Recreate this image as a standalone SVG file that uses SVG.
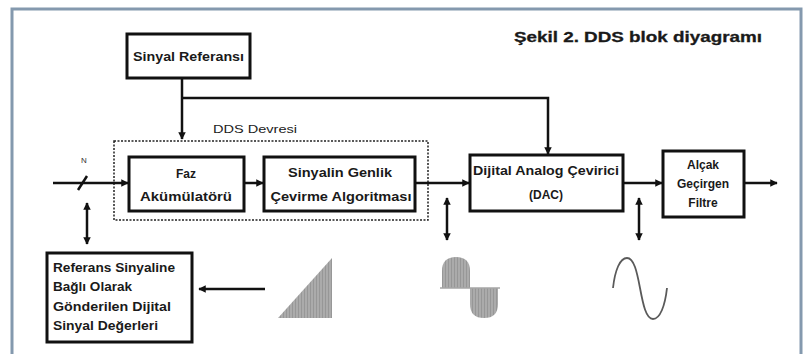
<svg xmlns="http://www.w3.org/2000/svg" width="803" height="354" viewBox="0 0 803 354">
  <defs>
    <style>
      .box { fill: #ffffff; stroke: #111111; stroke-width: 3; }
      .wire { fill: none; stroke: #111111; stroke-width: 2.5; }
      .lbl { font-family: "Liberation Sans", Arial, sans-serif; font-weight: bold; font-size: 12px; fill: #1a1a1a; }
      .mid { text-anchor: middle; }
      .wave { fill: url(#stripes); stroke: none; }
    </style>
    <marker id="arrow" viewBox="0 0 10 10" refX="9" refY="5" markerWidth="3" markerHeight="3" orient="auto-start-reverse" markerUnits="strokeWidth">
      <path d="M0,0 L10,5 L0,10 Z" fill="#111111"/>
    </marker>
    <pattern id="stripes" width="3" height="6" patternUnits="userSpaceOnUse">
      <rect width="3" height="6" fill="#ababab"/>
      <line x1="1.5" y1="0" x2="1.5" y2="6" stroke="#979797" stroke-width="1"/>
    </pattern>
  </defs>

  <rect width="803" height="354" fill="#ffffff"/>
  <!-- frame -->
  <rect x="12" y="9" width="789" height="350" fill="none" stroke="#8499ae" stroke-width="3"/>

  <text x="762" y="42" class="lbl" style="font-size:14.5px;text-anchor:end;stroke:#1a1a1a;stroke-width:0.3" textLength="248" lengthAdjust="spacingAndGlyphs">Şekil 2. DDS blok diyagramı</text>

  <!-- DDS block boundary -->
  <rect x="114" y="141" width="314" height="79" fill="none" stroke="#222222" stroke-width="1.5" stroke-dasharray="2 1.5"/>
  <text x="255" y="133" style="font-family:'Liberation Sans',Arial,sans-serif;font-size:11px;fill:#222" class="mid" textLength="84" lengthAdjust="spacingAndGlyphs">DDS Devresi</text>

  <g id="connectors">
    <!-- reference feeds -->
    <path class="wire" d="M182,78 V139" marker-end="url(#arrow)"/>
    <path class="wire" d="M182,98 H548 V154" marker-end="url(#arrow)"/>
    <!-- main signal chain -->
    <path class="wire" d="M53,183 H128" marker-end="url(#arrow)"/>
    <path class="wire" d="M244,183 H263" marker-end="url(#arrow)"/>
    <path class="wire" d="M415,183 H469" marker-end="url(#arrow)"/>
    <path class="wire" d="M623,183 H662" marker-end="url(#arrow)"/>
    <path class="wire" d="M744,183 H777" marker-end="url(#arrow)"/>
    <!-- bus width slash -->
    <path class="wire" d="M78,190 L87,176" stroke-width="2"/>
    <!-- probes -->
    <path class="wire" d="M87,203 V244" marker-start="url(#arrow)" marker-end="url(#arrow)"/>
    <path class="wire" d="M447,198 V240" marker-start="url(#arrow)" marker-end="url(#arrow)"/>
    <path class="wire" d="M639,198 V240" marker-start="url(#arrow)" marker-end="url(#arrow)"/>
    <path class="wire" d="M265,289 H199" marker-end="url(#arrow)"/>
  </g>
  <text x="84" y="163" style="font-family:'Liberation Sans',Arial,sans-serif;font-size:8px;fill:#333" class="mid">N</text>

  <g id="sinyal-referansi">
    <rect class="box" x="127" y="34" width="123" height="44"/>
    <text x="188.5" y="61" class="lbl mid" textLength="111" lengthAdjust="spacingAndGlyphs">Sinyal Referansı</text>
  </g>

  <g id="faz-akumulatoru">
    <rect class="box" x="129" y="157" width="115" height="54"/>
    <text x="186" y="178" class="lbl mid">Faz</text>
    <text x="186" y="201" class="lbl mid" textLength="92" lengthAdjust="spacingAndGlyphs">Akümülatörü</text>
  </g>

  <g id="genlik-cevirme">
    <rect class="box" x="264" y="157" width="151" height="54"/>
    <text x="340" y="177" class="lbl mid" textLength="104" lengthAdjust="spacingAndGlyphs">Sinyalin Genlik</text>
    <text x="341" y="201" class="lbl mid" textLength="141" lengthAdjust="spacingAndGlyphs">Çevirme Algoritması</text>
  </g>

  <g id="dac">
    <rect class="box" x="470" y="155" width="153" height="56"/>
    <text x="546" y="175" class="lbl mid" textLength="146" lengthAdjust="spacingAndGlyphs">Dijital Analog Çevirici</text>
    <text x="546" y="199" class="lbl mid">(DAC)</text>
  </g>

  <g id="alcak-geciren-filtre">
    <rect class="box" x="663" y="151" width="81" height="66"/>
    <text x="703" y="169" class="lbl mid">Alçak</text>
    <text x="703" y="188" class="lbl mid">Geçirgen</text>
    <text x="703" y="207" class="lbl mid">Filtre</text>
  </g>

  <g id="dijital-degerler">
    <rect class="box" x="47" y="253" width="145" height="89"/>
    <text x="53" y="272" class="lbl" textLength="122" lengthAdjust="spacingAndGlyphs">Referans Sinyaline</text>
    <text x="53" y="291" class="lbl" textLength="79" lengthAdjust="spacingAndGlyphs">Bağlı Olarak</text>
    <text x="53" y="311" class="lbl" textLength="118" lengthAdjust="spacingAndGlyphs">Gönderilen Dijital</text>
    <text x="53" y="330" class="lbl" textLength="105" lengthAdjust="spacingAndGlyphs">Sinyal Değerleri</text>
  </g>

  <!-- phase ramp -->
  <path class="wave" d="M278,318 L332,258 L332,318 Z"/>
  <!-- sampled waveform -->
  <path class="wave" d="M442,288 V271 Q442,257 456,257 Q470,257 470,271 V288 Z"/>
  <path class="wave" d="M470,288 V304 Q470,318 484,318 Q498,318 498,304 V288 Z"/>
  <line x1="440" y1="288" x2="500" y2="288" stroke="#a6a6a6" stroke-width="1.5"/>
  <!-- filtered sine -->
  <path d="M613,288 C615,270 620,258 627,258 C634,258 637,272 640,288 C643,304 646,319 653,319 C660,319 665,306 667,288" fill="none" stroke="#5a5a5a" stroke-width="1.8"/>
</svg>
